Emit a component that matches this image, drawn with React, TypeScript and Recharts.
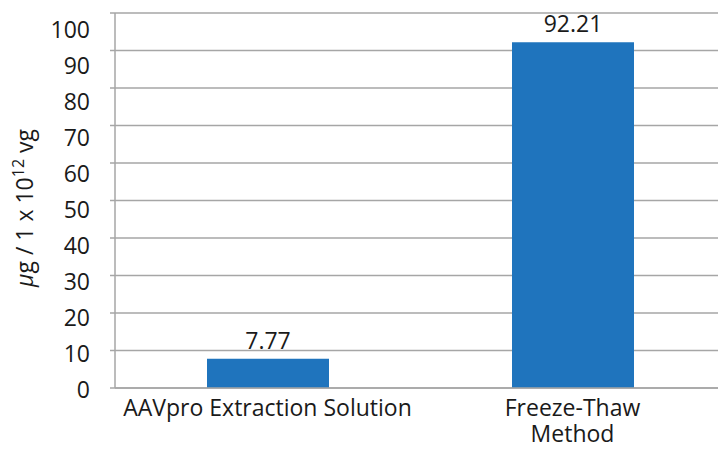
import { BarChart, Bar, XAxis, YAxis, CartesianGrid, LabelList } from "recharts";

const categories = ["AAVpro Extraction Solution", "Freeze-Thaw\nMethod"];
const amounts = [7.77, 92.21];
const yTicks = [0, 10, 20, 30, 40, 50, 60, 70, 80, 90, 100];

const data = categories.map((name, i) => ({ name, value: amounts[i] }));

const FONT = "'Open Sans', 'Noto Sans', sans-serif";
const GRID = "#a6a6a6";
const INK = "#1a1a1a";

function CategoryTick(props: any) {
  const { x, y, payload } = props;
  const lines = String(payload.value).split("\n");
  return (
    <text x={x} y={y} textAnchor="middle" fill={INK} fontSize={23} fontFamily={FONT}>
      {lines.map((l, i) => (
        <tspan key={i} x={x} dy={i === 0 ? 20 : 26}>
          {l}
        </tspan>
      ))}
    </text>
  );
}

// the source image's tick labels drift slightly below their gridlines toward the top
function ValueTick(props: any) {
  const { x, y, payload } = props;
  const drift = 2 + Number(payload.value) * 0.145;
  return (
    <text x={x} y={y + drift} dy="0.355em" textAnchor="end" fill={INK} fontSize={23} fontFamily={FONT}>
      {payload.value}
    </text>
  );
}

function YTitle() {
  return (
    <text
      transform="translate(33, 208) rotate(-90)"
      textAnchor="middle"
      fill={INK}
      fontSize={23}
      fontFamily={FONT}
    >
      <tspan fontStyle="italic">μ</tspan>
      <tspan>g / 1 x 10</tspan>
      <tspan fontSize={16} dy={-9}>12</tspan>
      <tspan dy={9}> vg</tspan>
    </text>
  );
}

export default function App() {
  return (
    <div style={{ position: "fixed", left: 0, top: 0, width: 718, height: 450, overflow: "hidden", background: "#fff" }}>
      <BarChart
        width={725}
        height={450}
        data={data}
        margin={{ top: 13, right: 0, bottom: 0, left: 0 }}
        barSize={122}
      >
        <CartesianGrid vertical={false} stroke={GRID} strokeWidth={1.5} />
        <XAxis
          dataKey="name"
          height={62}
          tickLine={false}
          axisLine={{ stroke: GRID, strokeWidth: 1.5 }}
          tick={<CategoryTick />}
          interval={0}
        />
        <YAxis
          width={115}
          domain={[0, 100]}
          ticks={yTicks}
          interval={0}
          tickSize={5}
          tickMargin={20}
          tickLine={{ stroke: GRID, strokeWidth: 1.5 }}
          axisLine={{ stroke: GRID, strokeWidth: 1.5 }}
          tick={<ValueTick />}
          label={<YTitle />}
        />
        <Bar dataKey="value" fill="#1f74bd" isAnimationActive={false}>
          <LabelList
            dataKey="value"
            position="top"
            offset={10}
            fill={INK}
            fontSize={23}
            fontFamily={FONT}
            formatter={(v: any) => Number(v).toFixed(2)}
          />
        </Bar>
      </BarChart>
    </div>
  );
}
